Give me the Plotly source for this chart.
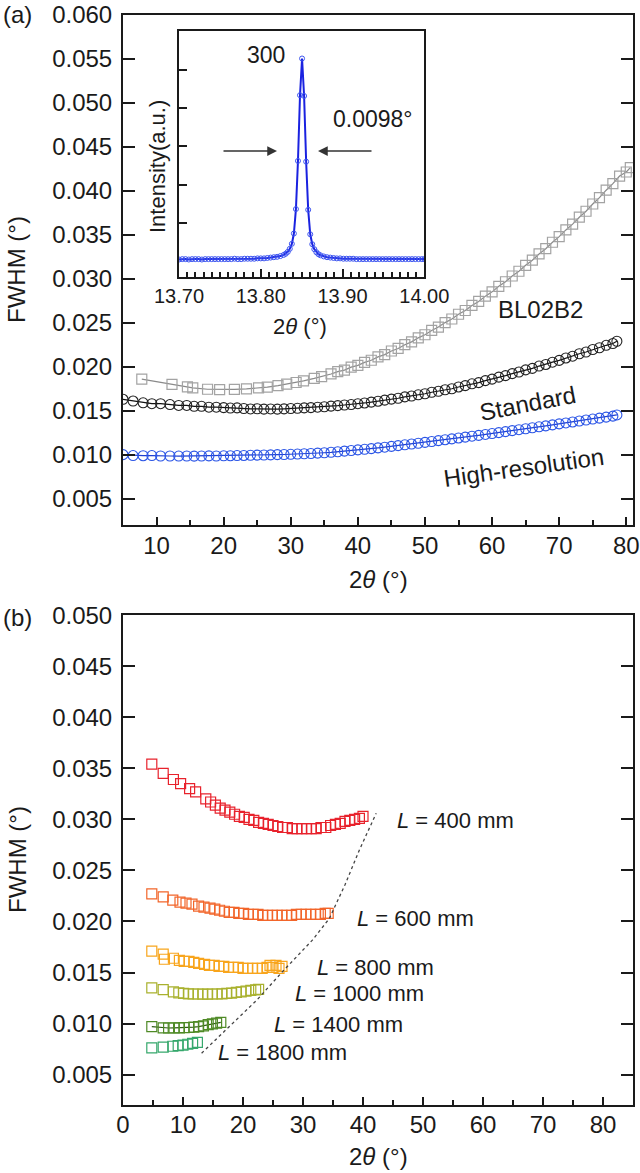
import plotly.graph_objects as go

W, H = 640, 1173
FONT = "Arial, Liberation Sans, sans-serif"
INK = "#1a1a1a"

# ---------------- (a) main panel data ----------------
bl_x = [7.8, 12.3, 14.6, 15.4, 17.6, 19.4, 21.6, 23.4, 25.2, 26.5, 28.1, 29.4, 30.8, 31.9, 33.5, 34.6,
        36, 37, 38, 39, 40, 41, 42, 43, 44, 45, 46, 47, 48, 49, 50, 51, 52, 53, 54, 55, 56, 57, 58,
        59, 60, 61, 62, 63, 64, 65, 66, 67, 68, 69, 70, 71, 72, 73, 74, 75, 76, 77, 78, 79, 80, 80.6]
bl_y = [0.0186, 0.0180, 0.0177, 0.0176, 0.01744, 0.0174, 0.01742, 0.01748, 0.01759, 0.01769, 0.01786,
        0.01802, 0.01821, 0.01839, 0.01867, 0.01888, 0.01918, 0.01945, 0.01962, 0.01995, 0.02016,
        0.02050, 0.02074, 0.02112, 0.02138, 0.02179, 0.02208, 0.02251, 0.02283, 0.02329, 0.02364,
        0.02413, 0.02451, 0.02502, 0.02543, 0.02597, 0.02640, 0.02697, 0.02743, 0.02803, 0.02852,
        0.02915, 0.02967, 0.03032, 0.03086, 0.03154, 0.03212, 0.03283, 0.03343, 0.03416, 0.03480,
        0.03556, 0.03622, 0.03701, 0.03769, 0.03851, 0.03923, 0.04008, 0.04082, 0.04169, 0.04215, 0.04265]

std_x = [5, 6.5, 8, 9.3, 10.6, 12, 13.3, 14.5, 15.6, 16.7, 17.8, 18.9, 20, 21, 22, 23, 24, 25, 26, 27,
         28, 29, 30, 31, 32, 33, 34, 35, 36, 37, 38, 39, 40, 41, 42, 43, 44, 45, 46, 47, 48, 49, 50,
         51, 52, 53, 54, 55, 56, 57, 58, 59, 60, 61, 62, 63, 64, 65, 66, 67, 68, 69, 70, 71, 72, 73,
         74, 75, 76, 77, 78, 78.6]
std_y = [0.0163, 0.0161, 0.0159, 0.0158, 0.0158, 0.0157, 0.0156, 0.0156, 0.0155, 0.0155, 0.0154,
         0.0154, 0.01535, 0.0153, 0.01532, 0.01525, 0.0152, 0.01522, 0.01518, 0.0152, 0.01518,
         0.01521, 0.01525, 0.01528, 0.01532, 0.01535, 0.0154, 0.01545, 0.01552, 0.01558, 0.01565,
         0.0157, 0.0158, 0.01588, 0.01598, 0.01608, 0.0162, 0.01632, 0.01642, 0.01657, 0.01667,
         0.01681, 0.01693, 0.0171, 0.01721, 0.01738, 0.0175, 0.0177, 0.01785, 0.01806, 0.0182,
         0.01842, 0.01859, 0.01882, 0.01899, 0.01922, 0.0194, 0.01964, 0.01982, 0.02008, 0.02026,
         0.02052, 0.02072, 0.021, 0.0212, 0.02148, 0.02168, 0.02196, 0.02216, 0.02244, 0.02264, 0.0229]

hr_x = std_x
hr_y = [0.0100, 0.0099, 0.00988, 0.0099, 0.00985, 0.00985, 0.00984, 0.00985, 0.00983, 0.00985,
        0.00986, 0.00985, 0.00987, 0.00988, 0.0099, 0.00991, 0.00993, 0.00995, 0.00996, 0.00998,
        0.0100, 0.01002, 0.01004, 0.01007, 0.0101, 0.01013, 0.01017, 0.01022, 0.01027, 0.01033,
        0.0104, 0.01047, 0.01054, 0.01061, 0.01069, 0.01077, 0.01085, 0.01094, 0.01103, 0.01112,
        0.01121, 0.0113, 0.0114, 0.0115, 0.0116, 0.0117, 0.0118, 0.0119, 0.0120, 0.0121, 0.0122,
        0.0123, 0.0124, 0.01251, 0.01262, 0.01273, 0.01284, 0.01295, 0.01306, 0.01317, 0.01328,
        0.01339, 0.0135, 0.01361, 0.01372, 0.01383, 0.01394, 0.01405, 0.01416, 0.01427, 0.01438, 0.01452]

# ---------------- (a) inset data: 300 reflection ----------------
ins_x = [13.700, 13.704, 13.708, 13.712, 13.716, 13.720, 13.724, 13.728, 13.732, 13.736, 13.740,
         13.744, 13.748, 13.752, 13.756, 13.760, 13.764, 13.768, 13.772, 13.776, 13.780, 13.784,
         13.788, 13.792, 13.796, 13.800, 13.804, 13.808, 13.812, 13.816, 13.820, 13.824, 13.828,
         13.8305, 13.833, 13.8355, 13.838, 13.8405, 13.843, 13.8455, 13.848, 13.8505, 13.853,
         13.8555, 13.858, 13.8605, 13.863, 13.8655, 13.868, 13.8705,
         13.873, 13.877, 13.881, 13.885, 13.889, 13.893, 13.897, 13.901, 13.905, 13.909, 13.913,
         13.917, 13.921, 13.925, 13.929, 13.933, 13.937, 13.941, 13.945, 13.949, 13.953, 13.957,
         13.961, 13.965, 13.969, 13.973, 13.977, 13.981, 13.985, 13.989, 13.993, 13.997, 14.000]
ins_y = [0.04, 0.05, 0.05, 0.04, 0.05, 0.05, 0.05, 0.04, 0.05, 0.05, 0.05,
         0.05, 0.05, 0.05, 0.05, 0.05, 0.05, 0.06, 0.05, 0.05, 0.06, 0.06,
         0.06, 0.06, 0.07, 0.07, 0.07, 0.08, 0.09, 0.10, 0.11, 0.13, 0.16,
         0.19, 0.24, 0.32, 0.45, 0.72, 1.36, 2.62, 4.34, 5.30, 4.32,
         2.60, 1.34, 0.70, 0.44, 0.31, 0.23, 0.18,
         0.15, 0.12, 0.10, 0.09, 0.08, 0.07, 0.07, 0.06, 0.06, 0.06, 0.06,
         0.05, 0.05, 0.05, 0.05, 0.05, 0.05, 0.05, 0.05, 0.05, 0.05, 0.05,
         0.05, 0.05, 0.05, 0.05, 0.05, 0.05, 0.05, 0.05, 0.05, 0.05, 0.05]

# ---------------- (b) data: camera length dependence ----------------
L400_x = [4.8, 6.7, 8.4, 9.6, 11.1, 12.1, 13.8, 14.6, 15.4, 16.2, 17.0, 17.8, 18.6, 19.4, 20.2, 21.0,
          21.8, 22.6, 23.4, 24.2, 25.0, 25.8, 26.6, 27.4, 28.2, 29.0, 29.8, 30.6, 31.4, 32.2, 33.0,
          33.8, 34.6, 35.4, 36.2, 37.0, 37.8, 38.6, 39.4, 40.0]
L400_y = [0.0354, 0.0345, 0.0339, 0.0335, 0.0330, 0.0327, 0.0320, 0.0317, 0.0314, 0.0311, 0.0309,
          0.0307, 0.0305, 0.0303, 0.0302, 0.0300, 0.0299, 0.0297, 0.0296, 0.0295, 0.0294, 0.0293,
          0.0292, 0.0292, 0.0291, 0.0291, 0.0291, 0.0291, 0.0291, 0.0291, 0.0292, 0.0292, 0.0294,
          0.0295, 0.0296, 0.0298, 0.0299, 0.0300, 0.0301, 0.0303]
L600_x = [4.8, 6.7, 8.3, 9.5, 10.5, 11.5, 12.6, 13.5, 14.5, 15.3, 16.1, 16.9, 17.7, 18.5, 19.3, 20.1,
          20.9, 21.7, 22.5, 23.3, 24.1, 24.9, 25.7, 26.5, 27.3, 28.1, 28.9, 29.7, 30.5, 31.3, 32.1,
          32.9, 33.7, 34.2]
L600_y = [0.0227, 0.0224, 0.0221, 0.0219, 0.0218, 0.0217, 0.0215, 0.0214, 0.0213, 0.0212, 0.0211,
          0.0210, 0.0209, 0.0209, 0.0208, 0.0208, 0.0207, 0.0207, 0.0207, 0.0206, 0.0206, 0.0206,
          0.0206, 0.0206, 0.0206, 0.0206, 0.0207, 0.0207, 0.0207, 0.0207, 0.0207, 0.0207, 0.0208, 0.0208]
L800_x = [4.8, 6.7, 6.9, 8.4, 9.4, 10.2, 11.0, 11.8, 12.6, 13.6, 14.4, 15.2, 16.0, 16.8, 17.6, 18.4,
          19.2, 20.0, 20.8, 21.6, 22.4, 23.2, 24.0, 24.5, 25.0, 25.5, 26.0, 26.5]
L800_y = [0.0171, 0.0168, 0.0163, 0.0164, 0.0162, 0.0161, 0.0161, 0.0160, 0.0159, 0.0158, 0.0157,
          0.0157, 0.0156, 0.0156, 0.0155, 0.0155, 0.0155, 0.0154, 0.0154, 0.0154, 0.0154, 0.0154,
          0.0155, 0.0157, 0.0155, 0.0157, 0.0154, 0.0156]
L1000_x = [4.8, 6.7, 8.4, 9.3, 10.1, 10.9, 11.7, 12.5, 13.3, 14.1, 14.9, 15.7, 16.5, 17.3, 18.1,
           18.9, 19.7, 20.5, 21.3, 22.1, 22.6]
L1000_y = [0.01350, 0.01332, 0.01310, 0.01300, 0.01295, 0.01292, 0.01290, 0.01290, 0.01288, 0.01288,
           0.01290, 0.01290, 0.01292, 0.01295, 0.01298, 0.01305, 0.01310, 0.01318, 0.01325, 0.01330, 0.01335]
L1400_x = [4.8, 6.7, 7.6, 8.5, 9.4, 10.2, 11.0, 11.8, 12.6, 13.4, 14.2, 14.9, 15.6, 16.3]
L1400_y = [0.00970, 0.00958, 0.00957, 0.00958, 0.00958, 0.00960, 0.00962, 0.00965, 0.00970, 0.00978,
           0.00990, 0.00998, 0.01005, 0.01012]
L1800_x = [4.8, 6.7, 8.3, 9.2, 10.0, 10.8, 11.6, 12.4]
L1800_y = [0.00762, 0.00770, 0.00778, 0.00784, 0.00790, 0.00798, 0.00806, 0.00816]
lim_x = [13.1, 17.5, 22.3, 26.6, 31.6, 34.4, 37.0, 39.4, 42.2]
lim_y = [0.0071, 0.0096, 0.0123, 0.0151, 0.0182, 0.0203, 0.0236, 0.0270, 0.0306]

series_b = [
    (L400_x, L400_y, "#E8222C", "L = 400 mm"),
    (L600_x, L600_y, "#F2652A", "L = 600 mm"),
    (L800_x, L800_y, "#F8A51C", "L = 800 mm"),
    (L1000_x, L1000_y, "#A9B12E", "L = 1000 mm"),
    (L1400_x, L1400_y, "#4F8A26", "L = 1400 mm"),
    (L1800_x, L1800_y, "#36A86C", "L = 1800 mm"),
]


def px(x):
    return x / W


def py(y):
    return 1 - y / H


fig = go.Figure()

# main (a)
fig.add_trace(go.Scatter(x=bl_x, y=bl_y, mode="lines+markers", xaxis="x", yaxis="y",
                         line=dict(color="#8a8a8a", width=1.2),
                         marker=dict(symbol="square-open", size=10, color="#a3a3a3", line=dict(width=1.2))))
fig.add_trace(go.Scatter(x=std_x, y=std_y, mode="lines+markers", xaxis="x", yaxis="y",
                         line=dict(color="#111111", width=1.2),
                         marker=dict(symbol="circle-open", size=10, color="#222222", line=dict(width=1.1))))
fig.add_trace(go.Scatter(x=hr_x, y=hr_y, mode="lines+markers", xaxis="x", yaxis="y",
                         line=dict(color="#1f3fd0", width=1.2),
                         marker=dict(symbol="circle-open", size=10, color="#2b55e6", line=dict(width=1.1))))

# inset
fig.add_trace(go.Scatter(x=ins_x, y=ins_y, mode="lines+markers", xaxis="x2", yaxis="y2",
                         line=dict(color="#1a22e0", width=2),
                         marker=dict(symbol="circle-open", size=5, color="#3d55f0", line=dict(width=1))))

# (b)
for xs, ys, col, _ in series_b:
    mode = "lines+markers" if xs is L1400_x else "markers"
    fig.add_trace(go.Scatter(x=xs, y=ys, mode=mode, xaxis="x3", yaxis="y3",
                             line=dict(color="#2f5a14", width=1.2),
                             marker=dict(symbol="square-open", size=10, color=col, line=dict(width=1.2))))
fig.add_trace(go.Scatter(x=lim_x, y=lim_y, mode="lines", xaxis="x3", yaxis="y3",
                         line=dict(color="#444444", width=1.3, dash="3px,3px")))

tickfont = dict(family=FONT, size=24, color=INK)
common = dict(showgrid=False, zeroline=False, showline=True, linewidth=2, linecolor=INK,
              tickcolor=INK, tickwidth=2, ticks="inside", automargin=False)

xdom = [px(123), px(633)]
fig.update_layout(
    width=W, height=H, margin=dict(l=0, r=0, t=0, b=0, pad=0, autoexpand=False),
    paper_bgcolor="white", plot_bgcolor="rgba(0,0,0,0)", showlegend=False,
    font=dict(family=FONT, color=INK),
    xaxis=dict(domain=xdom, anchor="y", range=[5, 81], dtick=10, tick0=0, ticklen=8,
               mirror=True, tickfont=tickfont, ticklabelstandoff=-2,
               minor=dict(dtick=5, tick0=0, ticks="inside", ticklen=5, tickwidth=2, tickcolor=INK),
               **common),
    yaxis=dict(domain=[py(525), py(15)], anchor="x", range=[0.002, 0.06001], dtick=0.005, tick0=0,
               tickformat=".3f", ticklen=12, mirror="ticks", tickfont=tickfont, ticklabelstandoff=4,
               **common),
    xaxis2=dict(domain=[px(179), px(424.3)], anchor="y2", range=[13.70, 14.00],
                tickvals=[13.70, 13.80, 13.90, 14.00], ticktext=["13.70", "13.80", "13.90", "14.00"],
                ticklen=8, mirror=True, tickfont=dict(family=FONT, size=20, color=INK),
                ticklabelstandoff=0,
                minor=dict(dtick=0.01, tick0=13.70, ticks="inside", ticklen=5, tickwidth=1.5,
                           tickcolor=INK),
                **common),
    yaxis2=dict(domain=[py(276.7), py(31)], anchor="x2", range=[-0.41, 6.02],
                tickvals=[1, 2, 3, 4, 5], showticklabels=False, ticklen=8, mirror=True, **common),
    xaxis3=dict(domain=xdom, anchor="y3", range=[0, 85], dtick=10, tick0=0, ticklen=8,
                mirror=True, tickfont=tickfont, ticklabelstandoff=-3,
                minor=dict(dtick=5, tick0=0, ticks="inside", ticklen=5, tickwidth=2, tickcolor=INK),
                **common),
    yaxis3=dict(domain=[py(1105.3), py(615)], anchor="x3", range=[0.002, 0.05001], dtick=0.005,
                tick0=0, tickformat=".3f", ticklen=12, mirror="ticks", tickfont=tickfont,
                ticklabelstandoff=4, **common),
)


def text(x, y, s, size=24, angle=0, **kw):
    fig.add_annotation(xref="paper", yref="paper", x=px(x), y=py(y), text=s, showarrow=False,
                       textangle=angle, font=dict(family=FONT, size=size, color=INK),
                       xanchor="center", yanchor="middle", **kw)


text(17, 15, "(a)")
text(17, 617, "(b)")
text(17, 270, "FWHM (°)", angle=-90)
text(17, 860, "FWHM (°)", angle=-90)
text(378, 580, "2<i>θ</i> (°)")
text(378, 1156, "2<i>θ</i> (°)")
# inset texts
text(157, 167, "Intensity(a.u.)", size=22, angle=-90)
text(300, 326, "2<i>θ</i> (°)", size=22)
text(266, 55, "300", size=23)
text(373, 119, "0.0098°", size=23)
# arrows
for hx, tx in [(277, 222), (318, 373)]:
    fig.add_annotation(xref="paper", yref="paper", x=px(hx), y=py(151), ax=tx - hx, ay=0,
                       axref="pixel", ayref="pixel", text="", showarrow=True,
                       arrowhead=2, arrowsize=1.3, arrowwidth=1.5, arrowcolor="#333333")
# curve labels
text(540, 309, "BL02B2")
text(527, 403, "Standard", angle=-11)
text(523, 467, "High-resolution", angle=-8)
# (b) labels
lab_pos = [(455, 820), (415, 918), (375, 967), (359, 993), (338, 1024), (282, 1052)]
for (xs, ys, col, lab), (lx, ly) in zip(series_b, lab_pos):
    text(lx, ly, lab.replace("L", "<i>L</i>", 1), size=22)

fig.write_html("out.html", config={"displayModeBar": False},
               post_script="document.body.style.margin='0';")
